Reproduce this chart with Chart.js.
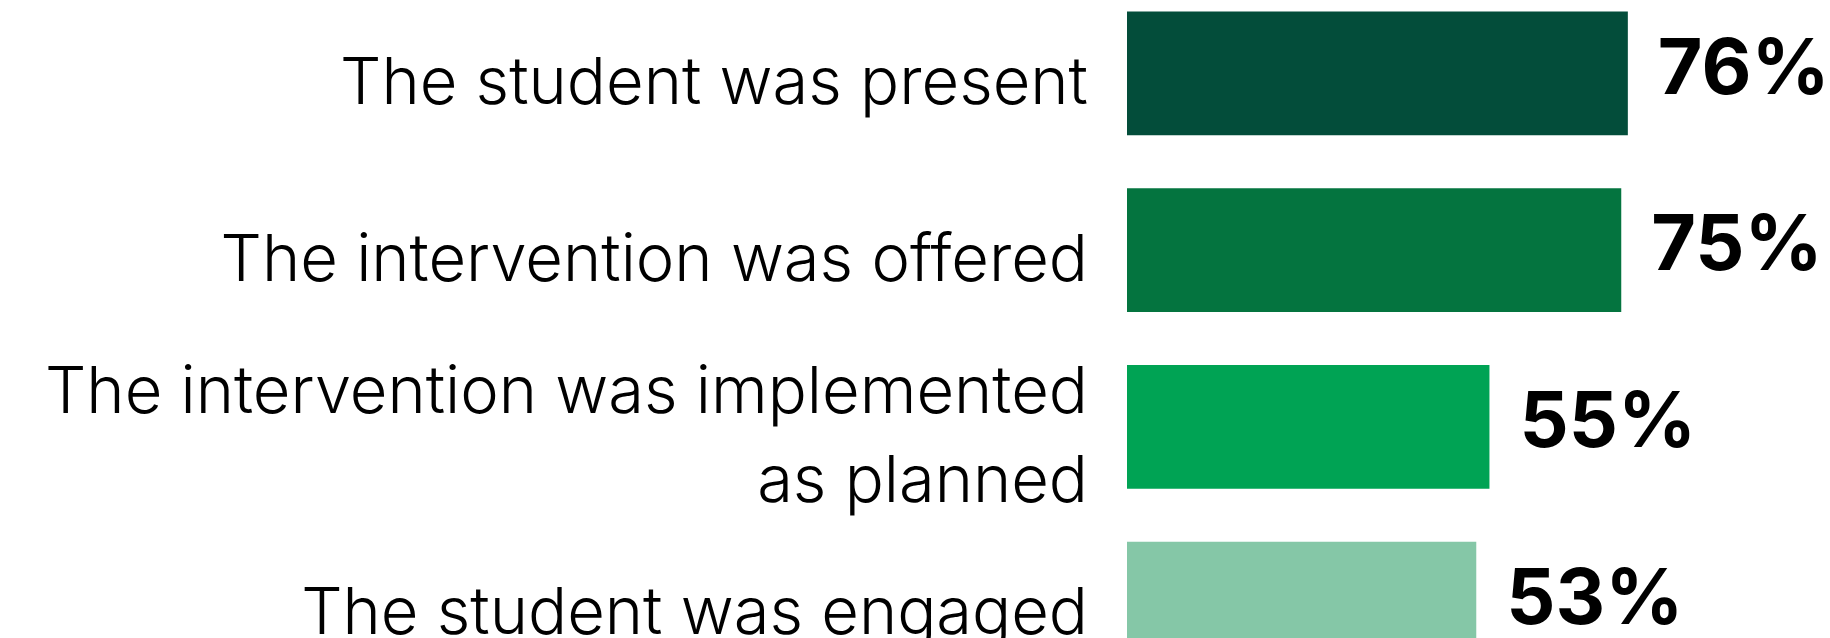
<!DOCTYPE html>
<html>
<head>
<meta charset="utf-8">
<script src="https://cdn.jsdelivr.net/npm/chart.js@4/dist/chart.umd.min.js"></script>
<style>
    html, body { margin: 0; padding: 0; background: #fff; overflow: hidden; }
    #wrap { position: relative; width: 1830px; height: 638px; overflow: hidden; }
    #box { position: absolute; left: 0; top: -15px; width: 1830px; height: 707px; }
</style>
</head>
<body>
<div id="wrap"><div id="box"><canvas id="fidelityChart"></canvas></div></div>
<script>
// Categories and values
const categories = [
    'The student was present',
    'The intervention was offered',
    ['The intervention was implemented', 'as planned'],
    'The student was engaged'
];
const percents = [76, 75, 55, 53];
const barColors = ['#034d3a', '#04743f', '#00a354', '#85c7a7'];

// Draw the "76%" style labels at the end of each bar
const valueLabels = {
    id: 'valueLabels',
    afterDatasetsDraw(chart) {
        const ctx = chart.ctx;
        const meta = chart.getDatasetMeta(0);
        ctx.save();
        ctx.font = '700 77px Inter, "Open Sans", sans-serif';
        ctx.fillStyle = '#000';
        ctx.textAlign = 'left';
        ctx.textBaseline = 'middle';
        meta.data.forEach((bar, i) => {
            ctx.fillText(percents[i] + '%', bar.x + 30, bar.y - 3);
        });
        ctx.restore();
    }
};

document.addEventListener('DOMContentLoaded', function () {
    var ctx = document.getElementById('fidelityChart');
    new Chart(ctx, {
        type: 'bar',
        data: {
            labels: categories,
            datasets: [{
                data: percents,
                backgroundColor: barColors,
                borderWidth: 0,
                barPercentage: 0.7,
                categoryPercentage: 1
            }]
        },
        options: {
            indexAxis: 'y',
            responsive: true,
            maintainAspectRatio: false,
            animation: false,
            layout: { padding: { top: 0, bottom: 0, left: 0, right: 44 } },
            plugins: {
                legend: { display: false },
                tooltip: { enabled: false }
            },
            scales: {
                x: {
                    min: 0,
                    max: 100,
                    display: false
                },
                y: {
                    border: { display: false },
                    grid: { display: false, drawTicks: false },
                    afterFit: function (scale) {
                        // fixed label column, no extra room above/below
                        scale.width = 1127;
                        scale.paddingTop = 0;
                        scale.paddingBottom = 0;
                    },
                    ticks: {
                        color: '#000',
                        padding: 39,
                        autoSkip: false,
                        labelOffset: 11,
                        font: { family: 'Inter, "Open Sans", sans-serif', size: 65, weight: 300, lineHeight: 1.36 }
                    }
                }
            }
        },
        plugins: [valueLabels]
    });
});
</script>
</body>
</html>
